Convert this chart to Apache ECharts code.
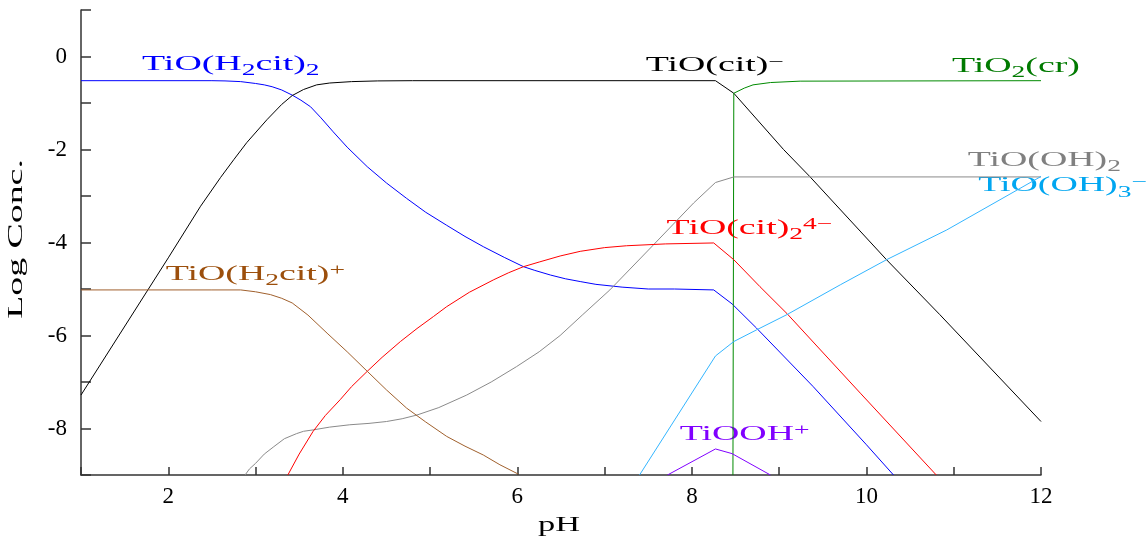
<!DOCTYPE html>
<html>
<head>
<meta charset="utf-8">
<title>Ti citrate speciation</title>
<script src="https://cdn.jsdelivr.net/npm/echarts@6/dist/echarts.min.js"></script>
<style>
  html, body { margin: 0; padding: 0; background: #ffffff; }
  #chart { width: 1146px; height: 537px; }
</style>
</head>
<body>
<div id="chart"></div>
<script>
// Axis tick labels
const phTickLabels = [2, 4, 6, 8, 10, 12];
const logTickLabels = [0, -2, -4, -6, -8];

// TiO(H2cit)2
const phH2cit2  = [1, 2.5, 2.65, 2.83, 3.0, 3.1, 3.19, 3.3, 3.42, 3.52, 3.63, 3.75, 3.89, 4.05, 4.28, 4.5, 4.73, 4.95, 5.19, 5.4, 5.61, 5.85, 6.07, 6.2, 6.38, 6.55, 6.72, 6.9, 7.2, 7.5, 7.8, 8.25, 8.46, 8.74, 9.39, 10.0, 10.31];
const logH2cit2 = [-0.52, -0.52, -0.525, -0.54, -0.58, -0.61, -0.65, -0.72, -0.83, -0.94, -1.08, -1.32, -1.62, -1.95, -2.37, -2.72, -3.05, -3.35, -3.63, -3.87, -4.09, -4.32, -4.52, -4.6, -4.70, -4.78, -4.84, -4.9, -4.96, -5.0, -5.0, -5.02, -5.32, -5.84, -7.1, -8.35, -9.0];

// TiO(cit)-
const phCit  = [1, 2.0, 2.37, 2.6, 2.75, 2.9, 3.13, 3.3, 3.42, 3.55, 3.70, 3.85, 4.1, 4.4, 4.8, 8.27, 8.48, 9.05, 9.35, 10.23, 10.84, 12];
const logCit = [-7.28, -4.33, -3.22, -2.6, -2.22, -1.85, -1.36, -1.03, -0.84, -0.71, -0.61, -0.57, -0.54, -0.525, -0.52, -0.52, -0.79, -2.0, -2.58, -4.37, -5.55, -7.85];

// TiO2(cr)
const phTiO2  = [8.47, 8.48, 8.6, 8.70, 8.9, 9.24, 12];
const logTiO2 = [-9.0, -0.79, -0.68, -0.61, -0.56, -0.53, -0.52];

// TiO(OH)2
const phOH2  = [2.88, 2.93, 3.0, 3.1, 3.21, 3.33, 3.47, 3.55, 3.66, 3.85, 4.08, 4.3, 4.5, 4.68, 4.85, 5.1, 5.42, 5.7, 5.99, 6.25, 6.49, 6.75, 7.06, 7.56, 8.02, 8.27, 8.48, 12];
const logOH2 = [-9.0, -8.87, -8.75, -8.55, -8.39, -8.22, -8.11, -8.06, -8.03, -7.97, -7.92, -7.89, -7.85, -7.79, -7.71, -7.55, -7.28, -7.0, -6.67, -6.35, -6.0, -5.55, -5.02, -4.05, -3.15, -2.71, -2.59, -2.59];

// TiO(cit)2 4-
const phCit2  = [3.37, 3.5, 3.66, 3.8, 3.97, 4.1, 4.28, 4.45, 4.66, 4.85, 5.04, 5.19, 5.45, 5.73, 5.9, 6.07, 6.25, 6.49, 6.72, 7.0, 7.25, 7.7, 8.25, 8.48, 8.78, 9.09, 9.93, 10.8];
const logCit2 = [-9.0, -8.55, -8.06, -7.72, -7.38, -7.1, -6.77, -6.47, -6.13, -5.85, -5.59, -5.38, -5.07, -4.8, -4.65, -4.52, -4.42, -4.29, -4.19, -4.11, -4.07, -4.03, -4.01, -4.37, -4.95, -5.53, -7.24, -9.0];

// TiO(H2cit)+
const phH2cit  = [1, 2.5, 2.83, 3.0, 3.17, 3.3, 3.42, 3.6, 3.82, 4.05, 4.28, 4.5, 4.73, 4.95, 5.19, 5.4, 5.61, 5.8, 6.01];
const logH2cit = [-5.02, -5.02, -5.02, -5.06, -5.12, -5.2, -5.3, -5.56, -5.95, -6.35, -6.77, -7.17, -7.56, -7.86, -8.17, -8.38, -8.57, -8.78, -8.98];

// TiO(OH)3-
const phOH3  = [7.4, 8.27, 8.48, 8.74, 9.09, 9.7, 10.23, 10.92, 12];
const logOH3 = [-9.0, -6.44, -6.13, -5.88, -5.55, -4.91, -4.37, -3.73, -2.58];

// TiOOH+
const phTiOOH  = [7.72, 8.27, 8.46, 8.9];
const logTiOOH = [-9.0, -8.44, -8.54, -9.0];

const zip = (xs, ys) => xs.map((x, i) => [x, ys[i]]);

const SERIF = '"Liberation Serif", "Times New Roman", serif';

const curves = [
  { name: 'TiO(H2cit)2',   color: '#0000ff', data: zip(phH2cit2, logH2cit2) },
  { name: 'TiO(cit)-',     color: '#000000', data: zip(phCit, logCit) },
  { name: 'TiO2(cr)',      color: '#008a00', data: zip(phTiO2, logTiO2) },
  { name: 'TiO(OH)2',      color: '#8a8a8a', data: zip(phOH2, logOH2) },
  { name: 'TiO(cit)2 4-',  color: '#ff0000', data: zip(phCit2, logCit2) },
  { name: 'TiO(H2cit)+',   color: '#a0602d', data: zip(phH2cit, logH2cit) },
  { name: 'TiO(OH)3-',     color: '#33b5ff', data: zip(phOH3, logOH3) },
  { name: 'TiOOH+',        color: '#8000ff', data: zip(phTiOOH, logTiOOH) }
];

const axisColor = '#333333';

const option = {
  animation: false,
  backgroundColor: '#ffffff',
  grid: { left: 81, right: 105, top: 10, bottom: 62, containLabel: false, outerBoundsMode: 'none' },
  xAxis: {
    type: 'value', min: 1, max: 12, interval: 1,
    axisLine: { show: true, onZero: false, lineStyle: { color: axisColor, width: 1.5 } },
    axisTick: { show: true, inside: true, length: 8, lineStyle: { color: axisColor, width: 1.5 } },
    axisLabel: {
      show: true, margin: 10, color: '#000', fontFamily: SERIF, fontSize: 23,
      formatter: v => (phTickLabels.includes(v) ? String(v) : '')
    },
    splitLine: { show: false }
  },
  yAxis: {
    type: 'value', min: -9, max: 1, interval: 1,
    axisLine: { show: true, onZero: false, lineStyle: { color: axisColor, width: 1.5 } },
    axisTick: { show: true, inside: true, length: 10, lineStyle: { color: axisColor, width: 1.5 } },
    axisLabel: {
      show: true, margin: 14, color: '#000', fontFamily: SERIF, fontSize: 23,
      formatter: v => (logTickLabels.includes(v) ? String(v) : '')
    },
    splitLine: { show: false }
  },
  series: curves.map(c => ({
    type: 'line', name: c.name, data: c.data,
    showSymbol: false, symbol: 'none', clip: true, silent: true,
    lineStyle: { color: c.color, width: 1 },
    itemStyle: { color: c.color }
  }))
};

const chart = echarts.init(document.getElementById('chart'), null, { renderer: 'canvas' });
chart.setOption(option);

// Species names: [text, kind] with kind 0 = normal, 1 = subscript, 2 = superscript
const speciesLabels = [
  { color: '#0000ff', at: [1.70, -0.32], parts: [['TiO(H', 0], ['2', 1], ['cit)', 0], ['2', 1]] },
  { color: '#000000', at: [7.47, -0.35], parts: [['TiO(cit)', 0], ['\u2212', 2]] },
  { color: '#007a00', at: [10.98, -0.36], parts: [['TiO', 0], ['2', 1], ['(cr)', 0]] },
  { color: '#808080', at: [11.16, -2.39], parts: [['TiO(OH)', 0], ['2', 1]] },
  { color: '#00a6f0', at: [11.28, -2.93], parts: [['TiO(OH)', 0], ['3', 1], ['\u2212', 2]] },
  { color: '#ff0000', at: [7.71, -3.85], parts: [['TiO(cit)', 0], ['2', 1], ['4\u2212', 2]] },
  { color: '#9c4f0c', at: [1.97, -4.84], parts: [['TiO(H', 0], ['2', 1], ['cit)', 0], ['+', 2]] },
  { color: '#8000ff', at: [7.86, -8.28], parts: [['TiOOH', 0], ['+', 2]] }
];

const STRETCH = 1.72;
const measureCtx = document.createElement('canvas').getContext('2d');
function textWidth(t, fs) {
  measureCtx.font = fs + 'px ' + SERIF;
  return measureCtx.measureText(t).width;
}

// Build a horizontally stretched text group; (px, py) is the left end of the baseline
function stretchedText(parts, px, py, color, opts) {
  opts = opts || {};
  const mainSize = opts.size || 22;
  const smallSize = 16;
  let off = 0;
  const kids = [];
  parts.forEach(([t, kind]) => {
    const fs = kind ? smallSize : mainSize;
    const shift = kind === 1 ? 5 : (kind === 2 ? -5 : 0);
    kids.push({
      type: 'text', x: off, y: shift - 0.34 * fs, silent: true,
      style: { text: t, font: fs + 'px ' + SERIF, fill: color, align: 'left', verticalAlign: 'middle' }
    });
    off += textWidth(t, fs);
  });
  if (opts.center) kids.forEach(k => { k.x -= off / 2; });
  return {
    type: 'group', x: px, y: py, scaleX: STRETCH, scaleY: 1,
    rotation: opts.rotation || 0, silent: true, children: kids
  };
}

const graphics = speciesLabels.map(l => {
  const p = chart.convertToPixel({ gridIndex: 0 }, l.at);
  return stretchedText(l.parts, p[0], p[1], l.color);
});

// Axis titles
graphics.push(stretchedText([['pH', 0]], 559, 532.5, '#000', { size: 20, center: true }));
graphics.push(stretchedText([['Log Conc.', 0]], 24, 239, '#000', { size: 22, center: true, rotation: Math.PI / 2 }));

chart.setOption({ graphic: { elements: graphics } });
</script>
</body>
</html>
